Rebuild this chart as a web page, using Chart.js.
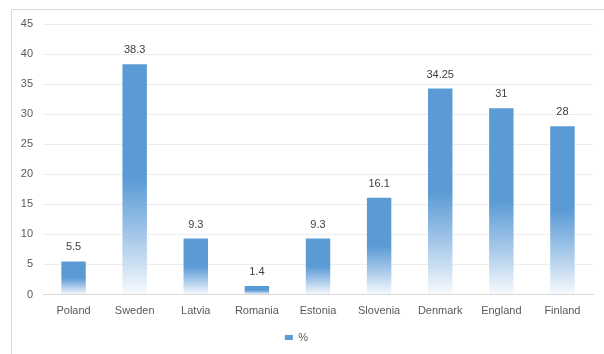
<!DOCTYPE html>
<html>
<head>
<meta charset="utf-8">
<script src="https://cdn.jsdelivr.net/npm/chart.js@4/dist/chart.umd.min.js"></script>
<style>
  html, body { margin: 0; padding: 0; background: #ffffff; }
  #wrap { width: 604px; height: 354px; position: relative; }
</style>
</head>
<body>
<div id="wrap"><canvas id="c" width="604" height="354"></canvas></div>
<script>
const categories = ["Poland", "Sweden", "Latvia", "Romania", "Estonia", "Slovenia", "Denmark", "England", "Finland"];
const values = [5.5, 38.3, 9.3, 1.4, 9.3, 16.1, 34.25, 31, 28];
const valueLabels = ["5.5", "38.3", "9.3", "1.4", "9.3", "16.1", "34.25", "31", "28"];
const seriesName = "%";
const yTicks = [0, 5, 10, 15, 20, 25, 30, 35, 40, 45];

const BLUE = "#5B9BD5";
const FONT = "'Liberation Sans', Arial, sans-serif";

function barFill(ctx) {
  const chart = ctx.chart;
  if (ctx.type !== "data" || ctx.dataIndex === undefined || !chart.chartArea) return BLUE;
  const ys = chart.scales.y;
  const top = ys.getPixelForValue(values[ctx.dataIndex]);
  const bottom = ys.getPixelForValue(0);
  if (!isFinite(top) || !isFinite(bottom) || bottom - top < 1) return BLUE;
  const g = chart.ctx.createLinearGradient(0, top, 0, bottom);
  g.addColorStop(0, BLUE);
  g.addColorStop(0.5, BLUE);
  g.addColorStop(0.75, "#A6C8E9");
  g.addColorStop(1, "#F7FAFD");
  return g;
}

const frame = {
  id: "frame",
  beforeDraw(chart) {
    const c = chart.ctx;
    c.save();
    c.fillStyle = "#ffffff";
    c.fillRect(0, 0, chart.width, chart.height);
    c.strokeStyle = "#D9D9D9";
    c.lineWidth = 1;
    c.beginPath();
    c.moveTo(11.5, chart.height);
    c.lineTo(11.5, 9.5);
    c.lineTo(chart.width, 9.5);
    c.stroke();
    c.restore();
  }
};

const dataLabels = {
  id: "dataLabels",
  afterDatasetsDraw(chart) {
    const c = chart.ctx;
    const meta = chart.getDatasetMeta(0);
    c.save();
    c.font = "11px " + FONT;
    c.fillStyle = "#404040";
    c.textAlign = "center";
    c.textBaseline = "middle";
    meta.data.forEach((bar, i) => {
      c.fillText(valueLabels[i], bar.x, bar.y - 14);
    });
    c.restore();
  }
};

new Chart(document.getElementById("c"), {
  type: "bar",
  data: {
    labels: categories,
    datasets: [{
      label: seriesName,
      data: values,
      backgroundColor: barFill,
      borderWidth: 0,
      barPercentage: 0.4,
      categoryPercentage: 1.0
    }]
  },
  options: {
    responsive: false,
    animation: false,
    devicePixelRatio: 1,
    layout: { padding: { left: 0, right: 11, top: 24, bottom: 1 } },
    plugins: {
      legend: {
        position: "bottom",
        labels: {
          boxWidth: 8,
          boxHeight: 5,
          padding: 10,
          color: "#595959",
          font: { family: FONT, size: 11 },
          generateLabels(chart) {
            return chart.data.datasets.map((ds, i) => ({
              text: ds.label,
              fillStyle: BLUE,
              strokeStyle: BLUE,
              lineWidth: 0,
              hidden: false,
              datasetIndex: i,
              fontColor: "#595959"
            }));
          }
        }
      },
      tooltip: { enabled: false }
    },
    scales: {
      x: {
        grid: { display: false, drawTicks: false },
        border: { display: true, color: "#D9D9D9" },
        ticks: { color: "#595959", padding: 10, font: { family: FONT, size: 11 }, maxRotation: 0 },
        afterFit(s) { s.height = 27.5; }
      },
      y: {
        min: 0,
        max: 45,
        afterBuildTicks(s) { s.ticks = yTicks.map(v => ({ value: v })); },
        grid: { color: "#EDEDED", drawTicks: false },
        border: { display: false },
        ticks: { color: "#595959", padding: 10, font: { family: FONT, size: 11 } },
        afterFit(s) { s.width = 43; }
      }
    }
  },
  plugins: [frame, dataLabels]
});
</script>
</body>
</html>
